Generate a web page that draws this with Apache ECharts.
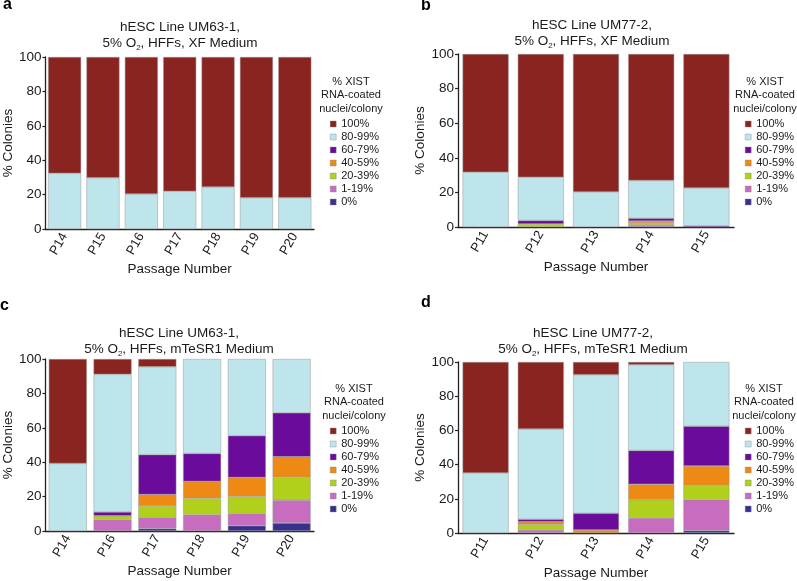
<!DOCTYPE html>
<html><head><meta charset="utf-8">
<script src="https://cdn.jsdelivr.net/npm/echarts@6/dist/echarts.min.js"></script>
<style>html,body{margin:0;padding:0;background:#fff}#c{width:797px;height:581px}</style>
</head><body><div id="c"></div>
<script>
// ---------- DATA ----------
const levels = ['0%','1-19%','20-39%','40-59%','60-79%','80-99%','100%'];
const legendOrder = ['100%','80-99%','60-79%','40-59%','20-39%','1-19%','0%'];
const yTicks = [0,20,40,60,80,100];

// Panel a: UM63-1, XF Medium
const catsA = ['P14','P15','P16','P17','P18','P19','P20'];
const a0    = [0,0,0,0,0,0,0];
const a1_19 = [0,0,0,0,0,0,0];
const a20_39= [0,0,0,0,0,0,0];
const a40_59= [0,0,0,0,0,0,0];
const a60_79= [0,0,0,0,0,0,0];
const a80_99= [32.4,29.8,20.3,21.9,24.4,18.2,18.2];
const a100  = [67.6,70.2,79.7,78.1,75.6,81.8,81.8];

// Panel b: UM77-2, XF Medium
const catsB = ['P11','P12','P13','P14','P15'];
const b0    = [0,0,0,0,0];
const b1_19 = [0,0,0,1.2,0];
const b20_39= [0,1.8,0,1.1,0];
const b40_59= [0,0,0,1.1,0];
const b60_79= [0,2.0,0,1.6,0.7];
const b80_99= [31.7,25.0,20.3,21.9,21.9];
const b100  = [68.3,71.2,79.7,73.1,77.4];

// Panel c: UM63-1, mTeSR1 Medium
const catsC = ['P14','P16','P17','P18','P19','P20'];
const c0    = [0,0,1.4,0,3.1,4.7];
const c1_19 = [0,6.6,6.4,9.5,7.0,13.2];
const c20_39= [0,2.2,6.8,9.6,9.9,13.4];
const c40_59= [0,0,6.6,9.7,11.1,11.9];
const c60_79= [0,2.3,23.2,16.3,24.3,25.5];
const c80_99= [39.3,80.0,51.1,54.9,44.6,31.3];
const c100  = [60.7,8.9,4.5,0,0,0];

// Panel d: UM77-2, mTeSR1 Medium
const catsD = ['P11','P12','P13','P14','P15'];
const d0    = [0,0,0,0,1.4];
const d1_19 = [0,1.8,0,8.8,18.1];
const d20_39= [0,3.2,0,10.7,8.4];
const d40_59= [0,1.6,1.8,9.0,11.3];
const d60_79= [0,1.4,9.7,19.8,23.2];
const d80_99= [35.1,52.8,81.1,50.1,37.6];
const d100  = [64.9,39.2,7.4,1.6,0];

const titlesL1 = ['hESC Line UM63-1,','hESC Line UM77-2,','hESC Line UM63-1,','hESC Line UM77-2,'];
const titlesMed = ['XF Medium','XF Medium','mTeSR1 Medium','mTeSR1 Medium'];
const letters = ['a','b','c','d'];

// ---------- STYLE / LAYOUT ----------
const colors = {'0%':'#38308f','1-19%':'#c86cc0','20-39%':'#b1d01c','40-59%':'#ee8a14',
  '60-79%':'#6b0b9c','80-99%':'#bee5ec','100%':'#8a2420'};
const FONT = 'Liberation Sans, Arial, sans-serif';
const TXT = '#1a1a1a';
const panels = [
  {cats:catsA, vals:[a0,a1_19,a20_39,a40_59,a60_79,a80_99,a100], grid:{left:41,top:57,width:273,height:172}, bw:33,
   title:{x:180,y:19}, head:{x:351,y:75}, leg:{x:330,y:118.5}, letter:{x:3,y:-3.3}, nameGap:29},
  {cats:catsB, vals:[b0,b1_19,b20_39,b40_59,b60_79,b80_99,b100], grid:{left:458,top:54,width:276,height:173}, bw:46,
   title:{x:592,y:17}, head:{x:765,y:75}, leg:{x:745,y:118.5}, letter:{x:421,y:-2}, nameGap:30},
  {cats:catsC, vals:[c0,c1_19,c20_39,c40_59,c60_79,c80_99,c100], grid:{left:41,top:359,width:273,height:172}, bw:38,
   title:{x:179,y:325}, head:{x:354,y:382}, leg:{x:330,y:425.5}, letter:{x:0,y:298}, nameGap:29},
  {cats:catsD, vals:[d0,d1_19,d20_39,d40_59,d60_79,d80_99,d100], grid:{left:458,top:362,width:276,height:171}, bw:46,
   title:{x:593,y:325}, head:{x:764,y:382}, leg:{x:745,y:425.5}, letter:{x:421,y:295}, nameGap:30}
];

const option = {animation:false, textStyle:{fontFamily:FONT}, grid:[], xAxis:[], yAxis:[], series:[], legend:[], title:[]};

panels.forEach((p,i)=>{
  option.grid.push(p.grid);
  option.xAxis.push({type:'category', gridIndex:i, data:p.cats,
    axisLine:{lineStyle:{color:'#222',width:1.3}}, axisTick:{show:false},
    axisLabel:{rotate:60, fontSize:13, color:TXT, margin:5, fontFamily:FONT},
    name:'Passage Number', nameLocation:'middle', nameGap:33,
    nameTextStyle:{fontSize:13.5, color:TXT, fontFamily:FONT}});
  option.yAxis.push({type:'value', gridIndex:i, min:yTicks[0], max:yTicks[yTicks.length-1], interval:20,
    axisLine:{show:true, lineStyle:{color:'#222',width:1.3}}, axisTick:{show:true,length:3,lineStyle:{color:'#222',width:1.2}},
    splitLine:{show:false}, axisLabel:{fontSize:13.5, color:TXT, margin:4, fontFamily:FONT},
    name:'% Colonies', nameLocation:'middle', nameGap:p.nameGap,
    nameTextStyle:{fontSize:13.5, color:TXT, fontFamily:FONT}});
  levels.forEach((lv,k)=>{
    option.series.push({type:'bar', name:lv, xAxisIndex:i, yAxisIndex:i, stack:'s'+i, barWidth:p.bw,
      data:p.vals[k].map(v=> v>0 ? v : '-'),
      itemStyle:{color:colors[lv], borderColor:'#999', borderWidth:0.5}});
  });
  option.legend.push({orient:'vertical', left:p.leg.x, top:p.leg.y, data:legendOrder, selectedMode:false,
    icon:'rect', itemWidth:6, itemHeight:6, itemGap:2, padding:0,
    itemStyle:{borderColor:'#888', borderWidth:0.4},
    textStyle:{fontSize:11, lineHeight:11, color:TXT, fontFamily:FONT}});
  option.title.push({text:'{t|'+titlesL1[i]+'}\n{t|5% O}{s|2}{t|, HFFs, '+titlesMed[i]+'}',
    left:p.title.x, top:p.title.y, textAlign:'center', padding:0,
    textStyle:{fontWeight:'normal', rich:{t:{fontSize:13.5, lineHeight:16.5, fontWeight:'normal', color:TXT, fontFamily:FONT},
                     s:{fontSize:8, lineHeight:8, verticalAlign:'bottom', fontWeight:'normal', color:TXT, fontFamily:FONT}}}});
  option.title.push({text:'% XIST\nRNA-coated\nnuclei/colony', left:p.head.x, top:p.head.y, textAlign:'center', padding:0,
    textStyle:{fontSize:11, lineHeight:13.5, fontWeight:'normal', color:TXT, fontFamily:FONT}});
  option.title.push({text:letters[i], left:p.letter.x, top:p.letter.y, padding:0,
    textStyle:{fontSize:16, lineHeight:16, fontWeight:'bold', color:'#000', fontFamily:FONT}});
});

const chart = echarts.init(document.getElementById('c'), null, {renderer:'canvas'});
chart.setOption(option);
</script>
</body></html>
